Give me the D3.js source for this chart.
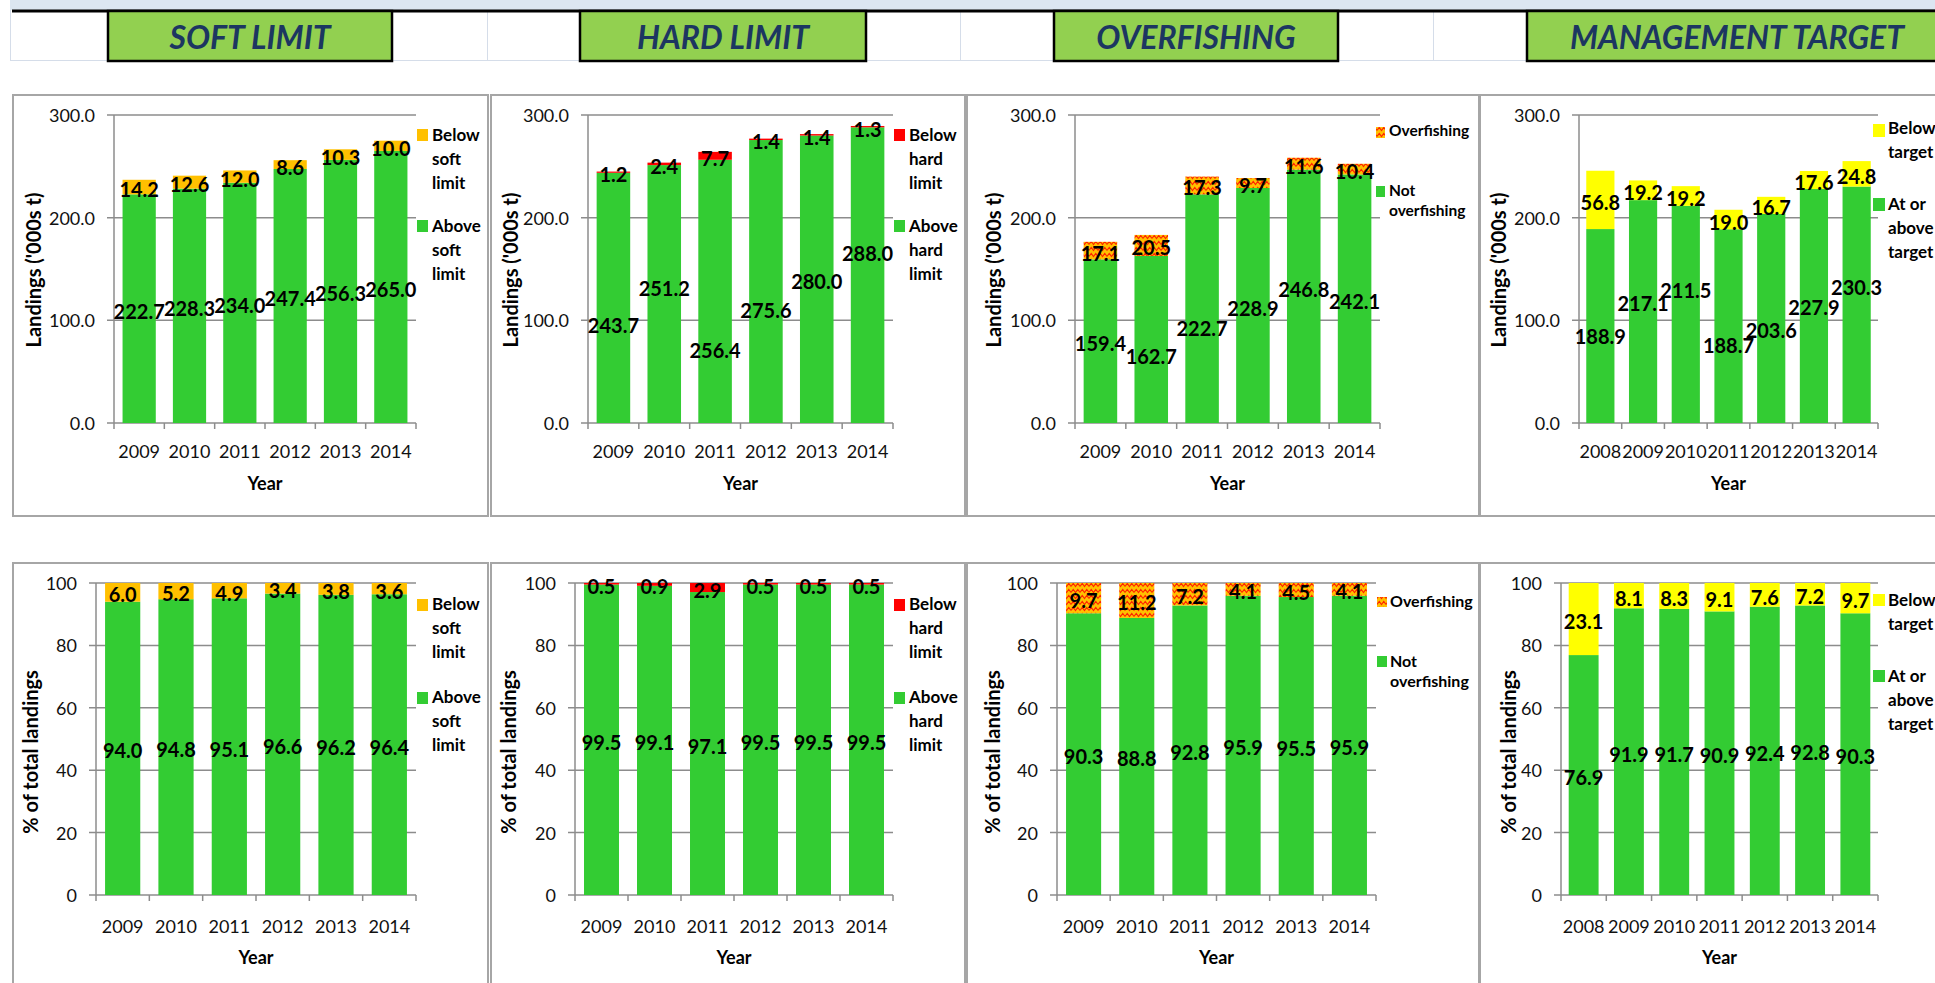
<!DOCTYPE html>
<html>
<head>
<meta charset="utf-8">
<script src="https://cdn.jsdelivr.net/npm/d3@7"></script>
<style>
  html, body { margin: 0; padding: 0; background: #fff; overflow: hidden; }
  svg { display: block; font-family: Lato, "Open Sans", sans-serif; }
</style>
</head>
<body>
<svg id="chart" width="1935" height="983"></svg>
<script>
// ---- data -------------------------------------------------------------
const years6 = ["2009", "2010", "2011", "2012", "2013", "2014"];
const years7 = ["2008", "2009", "2010", "2011", "2012", "2013", "2014"];

const headings = ["SOFT LIMIT", "HARD LIMIT", "OVERFISHING", "MANAGEMENT TARGET"];

// landings ('000s t)
const softAbove = [222.7, 228.3, 234.0, 247.4, 256.3, 265.0];
const softBelow = [14.2, 12.6, 12.0, 8.6, 10.3, 10.0];
const hardAbove = [243.7, 251.2, 256.4, 275.6, 280.0, 288.0];
const hardBelow = [1.2, 2.4, 7.7, 1.4, 1.4, 1.3];
const notOverfishing = [159.4, 162.7, 222.7, 228.9, 246.8, 242.1];
const overfishing = [17.1, 20.5, 17.3, 9.7, 11.6, 10.4];
const atTarget = [188.9, 217.1, 211.5, 188.7, 203.6, 227.9, 230.3];
const belowTarget = [56.8, 19.2, 19.2, 19.0, 16.7, 17.6, 24.8];

// % of total landings
const softAbovePct = [94.0, 94.8, 95.1, 96.6, 96.2, 96.4];
const softBelowPct = [6.0, 5.2, 4.9, 3.4, 3.8, 3.6];
const hardAbovePct = [99.5, 99.1, 97.1, 99.5, 99.5, 99.5];
const hardBelowPct = [0.5, 0.9, 2.9, 0.5, 0.5, 0.5];
const notOverfishingPct = [90.3, 88.8, 92.8, 95.9, 95.5, 95.9];
const overfishingPct = [9.7, 11.2, 7.2, 4.1, 4.5, 4.1];
const atTargetPct = [76.9, 91.9, 91.7, 90.9, 92.4, 92.8, 90.3];
const belowTargetPct = [23.1, 8.1, 8.3, 9.1, 7.6, 7.2, 9.7];

const landingTicks = [0, 100, 200, 300];
const pctTicks = [0, 20, 40, 60, 80, 100];

// ---- styles -----------------------------------------------------------
const GREEN = "#33cc33", ORANGE = "#ffc000", RED = "#ff0000", YELLOW = "#ffff00";
const GRID = "#8c8c8c", FRAME = "#a6a6a6";
const TICK_SIZE = 18, VALUE_SIZE = 20;

const svg = d3.select("#chart");
const defs = svg.append("defs");
const hatch = defs.append("pattern")
  .attr("id", "overfishHatch")
  .attr("patternUnits", "userSpaceOnUse")
  .attr("width", 9).attr("height", 6);
hatch.append("rect").attr("width", 9).attr("height", 6).attr("fill", ORANGE);
hatch.append("path")
  .attr("d", "M0,4.5 L2.25,1.5 L4.5,4.5 L6.75,1.5 L9,4.5")
  .attr("fill", "none").attr("stroke", "#ff2200").attr("stroke-width", 1.1);
const HATCH = "url(#overfishHatch)";

// ---- sheet header -----------------------------------------------------
svg.append("rect").attr("x", 10).attr("y", 0).attr("width", 1925).attr("height", 10).attr("fill", "#dce6f1");
// faint cell grid of the header row
[10, 487, 960, 1433].forEach(gx => {
  svg.append("line").attr("x1", gx + 0.5).attr("x2", gx + 0.5).attr("y1", 10).attr("y2", 61)
    .attr("stroke", "#d5dde9").attr("stroke-width", 1);
});
svg.append("line").attr("x1", 10).attr("x2", 1935).attr("y1", 60.5).attr("y2", 60.5)
  .attr("stroke", "#d5dde9").attr("stroke-width", 1);
svg.append("line").attr("x1", 12).attr("x2", 1935).attr("y1", 11).attr("y2", 11)
  .attr("stroke", "#000").attr("stroke-width", 3);

const headBoxes = [[108, 392], [580, 866], [1054, 1338], [1527, 1947]];
const headCentres = [250, 723, 1196, 1737];
headings.forEach((h, i) => {
  const [x0, x1] = headBoxes[i];
  svg.append("rect").attr("x", x0).attr("y", 11).attr("width", x1 - x0).attr("height", 50)
    .attr("fill", "#92d050").attr("stroke", "#000").attr("stroke-width", 2.5);
  svg.append("text").attr("x", headCentres[i]).attr("y", 49)
    .attr("text-anchor", "middle")
    .attr("font-size", 32).attr("font-weight", 700).attr("font-style", "italic")
    .attr("fill", "#1c3661").text(h);
});

// ---- panels -----------------------------------------------------------
const topRow = { t: 115, b: 423, fy0: 95, fy1: 516, xLab: 458, yearBase: 490, titleY: 270,
  max: 300, ticks: landingTicks, fmt: ".1f", yTitle: "Landings ('000s t)" };
const botRow = { t: 583, b: 895, fy0: 563, fy1: 990, xLab: 933, yearBase: 964, titleY: 752,
  max: 100, ticks: pctTicks, fmt: "d", yTitle: "% of total landings" };

const panels = [
  { row: topRow, fx0: 13, fx1: 488, l: 114, r: 416, titleX: 33, years: years6,
    base: softAbove, top: softBelow, topFill: ORANGE,
    legend: { sqX: 417, textX: 432, w: 11, size: 17, step: 24, items: [
      { fill: ORANGE, sqY: 129, h: 12, base: 141, lines: ["Below", "soft", "limit"] },
      { fill: GREEN, sqY: 220, h: 12, base: 232, lines: ["Above", "soft", "limit"] }] } },
  { row: topRow, fx0: 491, fx1: 965, l: 588, r: 893, titleX: 510, years: years6,
    base: hardAbove, top: hardBelow, topFill: RED,
    baseLabelAt: [95.4, 131.5, 71, 110, 138, 165.5],
    legend: { sqX: 894, textX: 909, w: 11, size: 17, step: 24, items: [
      { fill: RED, sqY: 129, h: 12, base: 141, lines: ["Below", "hard", "limit"] },
      { fill: GREEN, sqY: 220, h: 12, base: 232, lines: ["Above", "hard", "limit"] }] } },
  { row: topRow, fx0: 967, fx1: 1479, l: 1075, r: 1380, titleX: 993, years: years6,
    base: notOverfishing, top: overfishing, topFill: HATCH,
    baseLabelAt: [78, 65, 92.5, 112, 130.5, 119],
    legend: { sqX: 1376, textX: 1389, w: 9, size: 15.5, step: 20, items: [
      { fill: HATCH, sqY: 127, h: 11, base: 136, lines: ["Overfishing"] },
      { fill: GREEN, sqY: 186, h: 11, base: 196, lines: ["Not", "overfishing"] }] } },
  { row: topRow, fx0: 1480, fx1: 1945, l: 1579, r: 1878, titleX: 1498, years: years7,
    base: atTarget, top: belowTarget, topFill: YELLOW,
    baseLabelAt: [84.7, 116.8, 129.5, 76, 90.6, 113, 132.4],
    legend: { sqX: 1873, textX: 1888, w: 12, size: 17, step: 24, items: [
      { fill: YELLOW, sqY: 124, h: 13, base: 134, lines: ["Below", "target"] },
      { fill: GREEN, sqY: 198, h: 13, base: 210, lines: ["At or", "above", "target"] }] } },

  { row: botRow, fx0: 13, fx1: 488, l: 96, r: 416, titleX: 30, years: years6,
    base: softAbovePct, top: softBelowPct, topFill: ORANGE,
    legend: { sqX: 417, textX: 432, w: 11, size: 17, step: 24, items: [
      { fill: ORANGE, sqY: 599, h: 12, base: 610, lines: ["Below", "soft", "limit"] },
      { fill: GREEN, sqY: 692, h: 12, base: 703, lines: ["Above", "soft", "limit"] }] } },
  { row: botRow, fx0: 491, fx1: 965, l: 575, r: 893, titleX: 508, years: years6,
    base: hardAbovePct, top: hardBelowPct, topFill: RED,
    legend: { sqX: 894, textX: 909, w: 11, size: 17, step: 24, items: [
      { fill: RED, sqY: 599, h: 12, base: 610, lines: ["Below", "hard", "limit"] },
      { fill: GREEN, sqY: 692, h: 12, base: 703, lines: ["Above", "hard", "limit"] }] } },
  { row: botRow, fx0: 967, fx1: 1479, l: 1057, r: 1376, titleX: 992, years: years6,
    base: notOverfishingPct, top: overfishingPct, topFill: HATCH,
    legend: { sqX: 1377, textX: 1390, w: 10, size: 16, step: 20, items: [
      { fill: HATCH, sqY: 597, h: 10, base: 607, lines: ["Overfishing"] },
      { fill: GREEN, sqY: 656, h: 11, base: 667, lines: ["Not", "overfishing"] }] } },
  { row: botRow, fx0: 1480, fx1: 1945, l: 1561, r: 1878, titleX: 1508, years: years7,
    base: atTargetPct, top: belowTargetPct, topFill: YELLOW,
    legend: { sqX: 1873, textX: 1888, w: 12, size: 17, step: 24, items: [
      { fill: YELLOW, sqY: 594, h: 12, base: 606, lines: ["Below", "target"] },
      { fill: GREEN, sqY: 670, h: 12, base: 682, lines: ["At or", "above", "target"] }] } }
];

function drawPanel(p) {
  const R = p.row;
  const g = svg.append("g");

  g.append("rect")
    .attr("x", p.fx0).attr("y", R.fy0)
    .attr("width", p.fx1 - p.fx0).attr("height", R.fy1 - R.fy0)
    .attr("fill", "#fff").attr("stroke", FRAME).attr("stroke-width", 2);

  const x = d3.scaleBand().domain(p.years).range([p.l, p.r])
    .paddingInner(0.34).paddingOuter(0.17);
  const y = d3.scaleLinear().domain([0, R.max]).range([R.b, R.t]);

  // horizontal gridlines (the zero line doubles as the category axis)
  g.append("g").selectAll("line").data(R.ticks).join("line")
    .attr("x1", p.l - 7).attr("x2", p.r)
    .attr("y1", d => y(d)).attr("y2", d => y(d))
    .attr("stroke", GRID).attr("stroke-width", 1.5);

  // value axis line
  g.append("line").attr("x1", p.l).attr("x2", p.l).attr("y1", y(R.max)).attr("y2", y(0))
    .attr("stroke", GRID).attr("stroke-width", 1.5);

  // value tick labels
  g.append("g").selectAll("text").data(R.ticks).join("text")
    .attr("x", p.l - 19).attr("y", d => y(d))
    .attr("text-anchor", "end").attr("dominant-baseline", "central")
    .attr("font-size", TICK_SIZE).attr("fill", "#111")
    .text(d3.format(R.fmt));

  // category tick marks between bands
  const step = x.step();
  const edges = d3.range(p.years.length + 1).map(i => p.l + i * step);
  g.append("g").selectAll("line").data(edges).join("line")
    .attr("x1", d => d).attr("x2", d => d)
    .attr("y1", y(0)).attr("y2", y(0) + 6)
    .attr("stroke", GRID).attr("stroke-width", 1.5);

  // category labels
  g.append("g").selectAll("text").data(p.years).join("text")
    .attr("x", d => x(d) + x.bandwidth() / 2).attr("y", R.xLab)
    .attr("text-anchor", "middle").attr("font-size", TICK_SIZE).attr("fill", "#111")
    .text(d => d);

  // axis titles
  g.append("text").attr("x", (p.l + p.r) / 2).attr("y", R.yearBase)
    .attr("text-anchor", "middle").attr("font-size", 18).attr("font-weight", 700)
    .text("Year");
  g.append("text")
    .attr("transform", `translate(${p.titleX},${R.titleY}) rotate(-90)`)
    .attr("text-anchor", "middle").attr("dominant-baseline", "central")
    .attr("font-size", 20).attr("font-weight", 700)
    .text(R.yTitle);

  // stacked bars
  const rows = p.years.map((yr, i) => ({ year: yr, base: p.base[i], top: p.top[i] }));
  const series = d3.stack().keys(["base", "top"])(rows);
  const fills = { base: GREEN, top: p.topFill };

  series.forEach(s => {
    g.append("g").selectAll("rect").data(s).join("rect")
      .attr("x", d => x(d.data.year))
      .attr("width", x.bandwidth())
      .attr("y", d => y(d[1]))
      .attr("height", d => y(d[0]) - y(d[1]))
      .attr("fill", fills[s.key]);
  });

  // value labels
  series.forEach(s => {
    g.append("g").selectAll("text").data(s).join("text")
      .attr("x", d => x(d.data.year) + x.bandwidth() / 2)
      .attr("y", (d, i) => {
        if (s.key === "base" && p.baseLabelAt) return y(p.baseLabelAt[i]);
        return y((d[0] + d[1]) / 2) + 2;
      })
      .attr("text-anchor", "middle").attr("dominant-baseline", "central")
      .attr("font-size", VALUE_SIZE).attr("font-weight", 700).attr("fill", "#000")
      .text(d => d3.format(".1f")(d.data[s.key]));
  });

  // legend
  const L = p.legend;
  L.items.forEach(it => {
    g.append("rect").attr("x", L.sqX).attr("y", it.sqY)
      .attr("width", L.w).attr("height", it.h).attr("fill", it.fill);
    it.lines.forEach((ln, k) => {
      g.append("text").attr("x", L.textX).attr("y", it.base + k * L.step)
        .attr("font-size", L.size).attr("font-weight", 700).attr("fill", "#000")
        .text(ln);
    });
  });
}

panels.forEach(drawPanel);
</script>
</body>
</html>
